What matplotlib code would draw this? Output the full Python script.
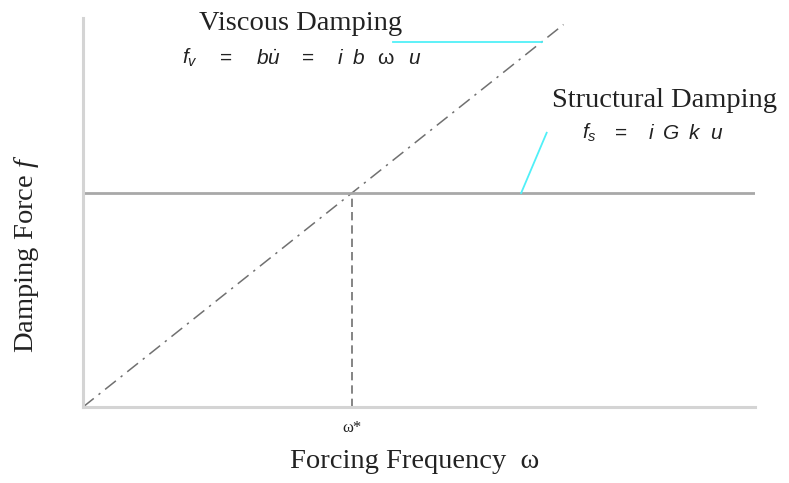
import matplotlib
matplotlib.use("Agg")
import matplotlib.pyplot as plt
import numpy as np

# ---- data ----
omega_limits = [0.0, 10.0]
force_limits = [0.0, 10.0]
omega_star = 4.0          # crossing frequency
structural_level = 5.5    # constant structural damping force
viscous_end = 7.15        # where the viscous line stops
tick_labels = [r"ω*"]

plt.rcParams['mathtext.fontset'] = 'custom'
plt.rcParams['mathtext.it'] = 'Liberation Sans:italic'
plt.rcParams['mathtext.rm'] = 'Liberation Sans'
plt.rcParams['mathtext.sf'] = 'Liberation Sans'
plt.rcParams['mathtext.cal'] = 'Liberation Serif:italic'

W, H = 789, 483
fig = plt.figure(figsize=(W / 100, H / 100), dpi=100)
L, R, T, B = 83, 755, 18, 407
ax = fig.add_axes([L / W, 1 - B / H, (R - L) / W, (B - T) / H])
ax.set_xlim(*omega_limits)
ax.set_ylim(*force_limits)

for s in ['top', 'right']:
    ax.spines[s].set_visible(False)
for s in ['left', 'bottom']:
    ax.spines[s].set_color('#d4d4d4')
    ax.spines[s].set_linewidth(2.2)

b = structural_level / omega_star
xv = np.array([0.0, viscous_end])
ax.plot(xv, b * xv, color='#707070', lw=1.1, ls=(0, (9, 4, 1.5, 4)), clip_on=False)
ax.plot(omega_limits, [structural_level, structural_level], color='#a8a8a8', lw=2.0)
ax.plot([omega_star, omega_star], [0, structural_level - 0.1], color='#707070', lw=1.2,
        ls=(0, (5, 3)))

ax.set_xticks([omega_star])
ax.set_xticklabels(tick_labels, fontsize=12, family='Liberation Serif', color='#222222')
ax.tick_params(axis='x', length=0, pad=9)
ax.set_yticks([])

# cyan leader lines
cyan_x = 6.83
ax.plot([4.61, cyan_x], [b * cyan_x] * 2, color='#50f0f8', lw=1.3, clip_on=False)
ax.plot([6.52, 6.9], [structural_level, structural_level + 1.55], color='#50f0f8', lw=1.3)

def px(x, y):
    return x / W, 1 - y / H

serif = 'Liberation Serif'
tc = '#222222'
fs = 20.5
fig.text(*px(301, 30), "Viscous Damping", ha='center', va='baseline', fontsize=fs,
         family=serif, color=tc)
fig.text(*px(664, 107), "Structural Damping", ha='center', va='baseline', fontsize=fs,
         family=serif, color=tc)
fig.text(*px(415, 468), r"Forcing Frequency  ω", ha='center', va='baseline',
         fontsize=fs, family=serif, color=tc)
fig.text(*px(27, 254), r"Damping Force $\mathcal{f}$", ha='center', va='center',
         rotation=90, fontsize=fs, family=serif, color=tc)

# formulas, token by token
viscous_tokens = [(182, r"$f_v$"), (220, "="), (256, r"$b\dot{u}$"), (302, "="),
                  (337, r"$i$"), (352, r"$b$"), (377, "ω"), (408, r"$u$")]
for x, t in viscous_tokens:
    fig.text(*px(x, 64), t, ha='left', va='baseline', fontsize=15, color=tc,
             family='Liberation Sans')
struct_tokens = [(582, r"$f_s$"), (615, "="), (648, r"$i$"), (662, r"$G$"),
                 (688, r"$k$"), (710, r"$u$")]
for x, t in struct_tokens:
    fig.text(*px(x, 139), t, ha='left', va='baseline', fontsize=15, color=tc,
             family='Liberation Sans')

fig.savefig("out.png", dpi=100)
